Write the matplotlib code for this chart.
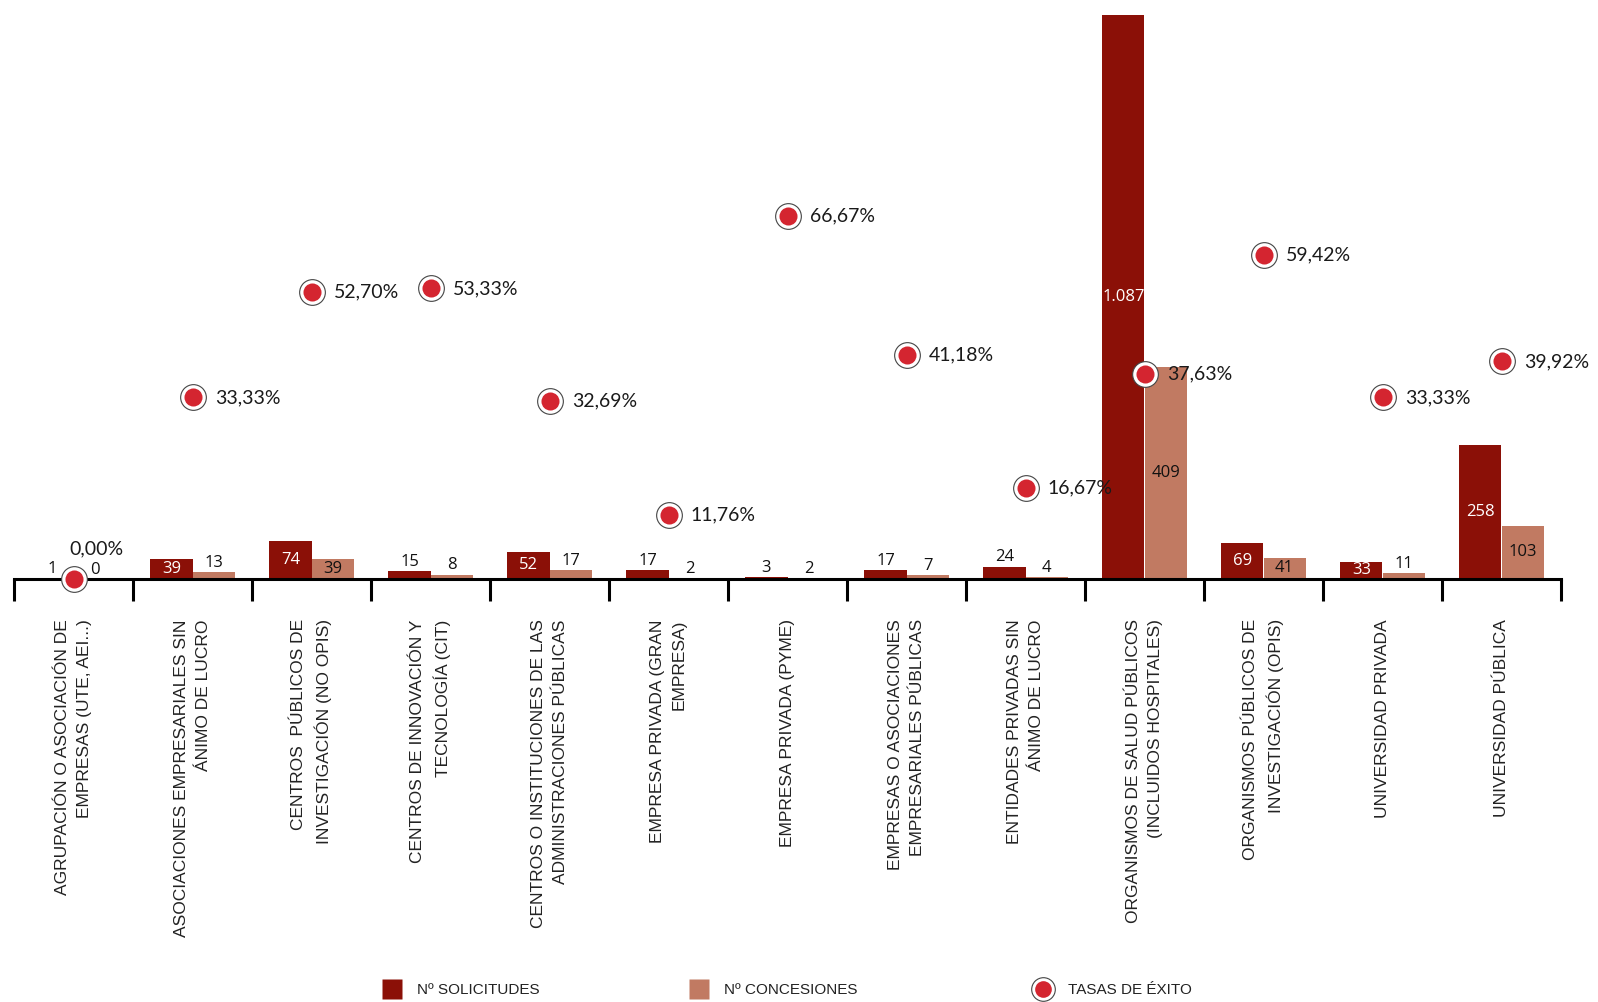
import matplotlib
matplotlib.use("Agg")
import matplotlib.pyplot as plt
from matplotlib.lines import Line2D
import numpy as np

# datos
categorias = [
    "AGRUPACIÓN O ASOCIACIÓN DE\nEMPRESAS (UTE, AEI...)",
    "ASOCIACIONES EMPRESARIALES SIN\nÁNIMO DE LUCRO",
    "CENTROS  PÚBLICOS DE\nINVESTIGACIÓN (NO OPIS)",
    "CENTROS DE INNOVACIÓN Y\nTECNOLOGÍA (CIT)",
    "CENTROS O INSTITUCIONES DE LAS\nADMINISTRACIONES PÚBLICAS",
    "EMPRESA PRIVADA (GRAN\nEMPRESA)",
    "EMPRESA PRIVADA (PYME)",
    "EMPRESAS O ASOCIACIONES\nEMPRESARIALES PÚBLICAS",
    "ENTIDADES PRIVADAS SIN\nÁNIMO DE LUCRO",
    "ORGANISMOS DE SALUD PÚBLICOS\n(INCLUIDOS HOSPITALES)",
    "ORGANISMOS PÚBLICOS DE\nINVESTIGACIÓN (OPIS)",
    "UNIVERSIDAD PRIVADA",
    "UNIVERSIDAD PÚBLICA",
]
solicitudes = [1, 39, 74, 15, 52, 17, 3, 17, 24, 1087, 69, 33, 258]
concesiones = [0, 13, 39, 8, 17, 2, 2, 7, 4, 409, 41, 11, 103]
tasas = [0.00, 33.33, 52.70, 53.33, 32.69, 11.76, 66.67, 41.18, 16.67, 37.63, 59.42, 33.33, 39.92]

C_SOL = "#8B1007"
C_CON = "#C17A62"
C_TASA = "#D42530"

def fmt_num(v):
    return f"{v:,}".replace(",", ".")

fig = plt.figure(figsize=(15.98, 10.02), dpi=100)
ax = fig.add_axes([14 / 1598, 423 / 1002, 1547 / 1598, 565 / 1002])

x = np.arange(len(categorias))
w = 0.353
b1 = ax.bar(x - w / 2, solicitudes, w, color=C_SOL)
b2 = ax.bar(x + w / 2, concesiones, w, color=C_CON)

# etiquetas de barras: dentro si la barra es alta, encima si no
lab_font = dict(family=["Open Sans", "DejaVu Sans"], fontsize=12)
ax.bar_label(b1, labels=[fmt_num(v) if v >= 30 else "" for v in solicitudes],
             label_type="center", color="white", **lab_font)
ax.bar_label(b1, labels=[fmt_num(v) if v < 30 else "" for v in solicitudes],
             padding=1, color="#111111", **lab_font)
ax.bar_label(b2, labels=[fmt_num(v) if v >= 39 else "" for v in concesiones],
             label_type="center", color="#111111", **lab_font)
ax.bar_label(b2, labels=[fmt_num(v) if v < 39 else "" for v in concesiones],
             padding=1, color="#111111", **lab_font)

ax.set_xlim(-0.5, len(categorias) - 0.5)
ax.set_ylim(0, 1088)
for s in ["left", "right", "top"]:
    ax.spines[s].set_visible(False)
ax.spines["bottom"].set_linewidth(2.2)
ax.set_yticks([])

# marcas en los límites de categoría, etiquetas en el centro
ax.set_xticks(np.arange(-0.5, len(categorias), 1.0))
ax.set_xticklabels([])
ax.tick_params(axis="x", which="major", direction="out", length=16, width=2.2, color="black")
ax.set_xticks(x, minor=True)
ax.set_xticklabels(categorias, minor=True, rotation=90, ha="center", va="top",
                   multialignment="right", fontsize=12.5, linespacing=1.6,
                   family=["Liberation Sans", "DejaVu Sans"], color="#222222")
ax.tick_params(axis="x", which="minor", length=0, pad=29)

# tasas de éxito en eje secundario
ax2 = ax.twinx()
ax2.set_ylim(0, 103.7)
ax2.set_yticks([])
for s in ax2.spines.values():
    s.set_visible(False)
ax2.plot(x, tasas, "o", ms=18.5, mfc="white", mec="#444444", mew=0.8, clip_on=False)
ax2.plot(x, tasas, "o", ms=13, mfc=C_TASA, mec="none", clip_on=False)
for xi, t in zip(x, tasas):
    txt = f"{t:.2f}".replace(".", ",") + "%"
    if t == 0:
        off = (-3, 22)
    else:
        off = (16, 0)
    ax2.annotate(txt, (xi, t), xytext=off, textcoords="offset points",
                 ha="left", va="center", fontsize=14,
                 family=["Lato", "DejaVu Sans"], color="#1a1a1a")

# leyenda
leg_font = dict(family=["Liberation Sans", "DejaVu Sans"], size=11)
tasa_h = (Line2D([], [], ls="none", marker="o", ms=17, mfc="white", mec="#444444", mew=0.8),
          Line2D([], [], ls="none", marker="o", ms=12, mfc=C_TASA, mec="none"))
handles = [
    Line2D([], [], ls="none", marker="s", ms=15, mfc=C_SOL, mec="none"),
    Line2D([], [], ls="none", marker="s", ms=15, mfc=C_CON, mec="none"),
    tasa_h,
]
nombres = ["Nº SOLICITUDES", "Nº CONCESIONES", "TASAS DE ÉXITO"]
posiciones = [383 / 1598, 690 / 1598, 1034 / 1598]
for h, n, px in zip(handles, nombres, posiciones):
    lg = fig.legend([h], [n], loc="center left", bbox_to_anchor=(px, 12 / 1002),
                    frameon=False, prop=leg_font, handlelength=1.2, handletextpad=1.0,
                    borderpad=0, borderaxespad=0)
    for t in lg.get_texts():
        t.set_color("#222222")

fig.savefig("out.png", dpi=100)
